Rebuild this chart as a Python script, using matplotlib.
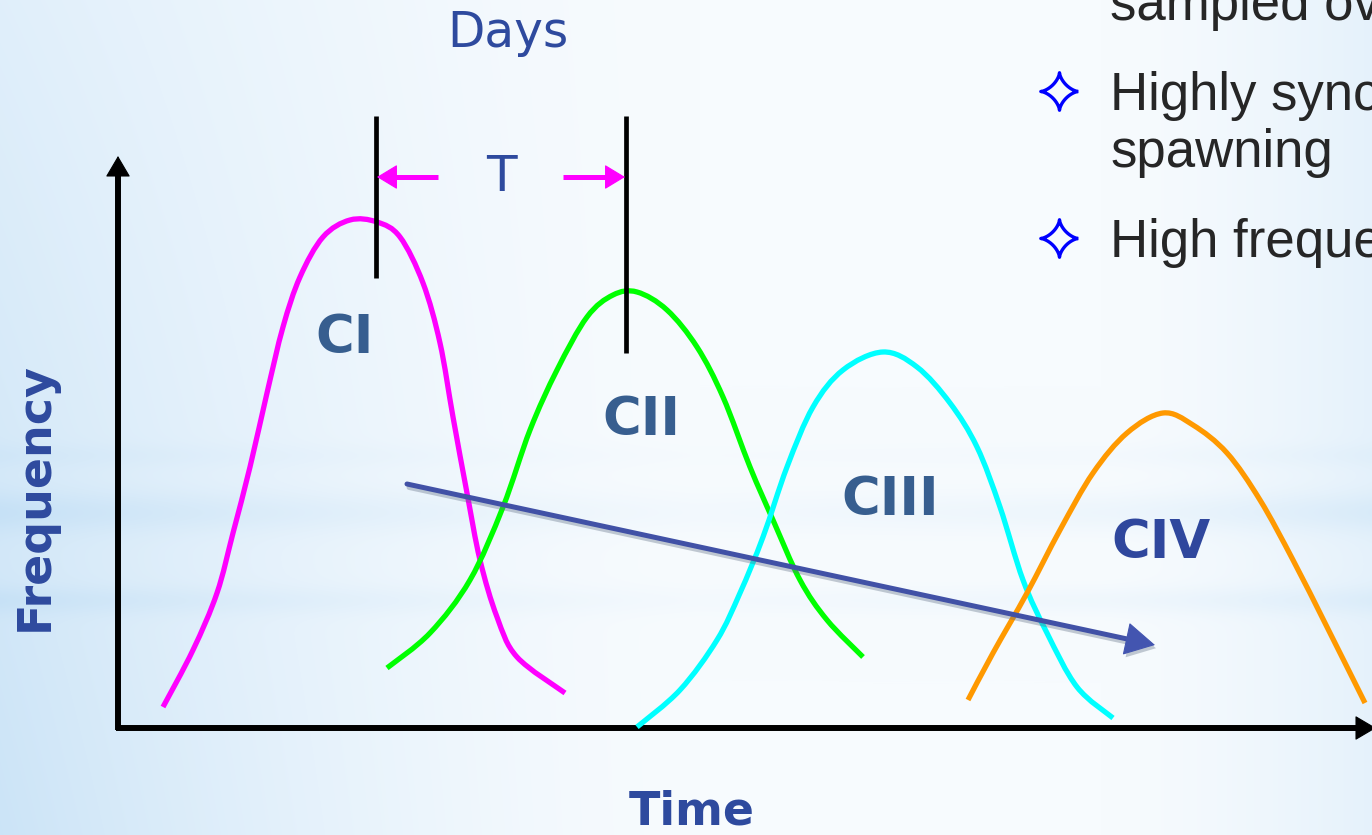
import numpy as np
import matplotlib
matplotlib.use("Agg")
import matplotlib.pyplot as plt
from matplotlib.path import Path
from matplotlib.patches import PathPatch
import matplotlib.patheffects as pe

# ---- cohort frequency curves (time, frequency) ----
ci_t = [45, 75, 99, 115, 132, 149, 165, 182, 205, 232, 259, 282, 305, 322, 335, 349, 362, 379, 399, 447]
ci_f = [21, 78, 135, 195, 261, 335, 401, 451, 491, 508, 506, 491, 445, 385, 311, 235, 168, 111, 71, 35]

cii_t = [269, 312, 352, 385, 412, 439, 469, 495, 519, 549, 579, 605, 632, 655, 682, 709, 745]
cii_f = [60, 95, 148, 221, 298, 358, 411, 433, 436, 418, 381, 331, 261, 208, 148, 108, 71]

ciii_t = [519, 562, 599, 622, 645, 669, 695, 725, 765, 799, 832, 859, 882, 905, 929, 959, 995]
ciii_f = [1, 38, 88, 135, 191, 261, 321, 358, 376, 361, 325, 281, 221, 148, 95, 41, 10]

civ_t = [850, 875, 909, 942, 975, 1009, 1045, 1075, 1109, 1142, 1175, 1209, 1247]
civ_f = [28, 75, 135, 198, 255, 295, 315, 303, 275, 228, 168, 101, 25]

cohort_labels = ["CI", "CII", "CIII", "CIV"]
label_t = [227, 523, 772, 1043]
label_f = [390, 308, 228, 185]

# interval T between two successive peaks
peak_marks_t = [258, 508]
peak_marks_top = [612, 612]
peak_marks_bottom = [450, 375]
interval_f = 551

bullets = ["sampled over", "Highly synchronized", "spawning", "High frequency"]

W_PX, H_PX = 1372, 835
T_MIN, T_MAX = -118, 1254
F_MIN, F_MAX = -107, 728

fig = plt.figure(figsize=(W_PX / 100, H_PX / 100), dpi=100)
ax = fig.add_axes([0, 0, 1, 1])
ax.set_xlim(T_MIN, T_MAX)
ax.set_ylim(F_MIN, F_MAX)
ax.axis("off")

# ---- slide background: soft blue gradient with haze bands ----
yy, xx = np.mgrid[0:H_PX, 0:W_PX].astype(float)
base = np.array([247, 251, 254]) / 255
tint = np.array([196, 224, 246]) / 255
w_left = np.clip(1 - xx / 700, 0, 1) ** 1.5 * (0.45 + 0.40 * yy / H_PX)
w_right = np.clip((xx - 1100) / 272, 0, 1) ** 1.5 * 0.35
side = 0.35 + 0.65 * np.abs(xx - 700) / 700
bands = (0.26 * np.exp(-((yy - 512) / 20) ** 2)
         + 0.20 * np.exp(-((yy - 600) / 14) ** 2)
         + 0.10 * np.exp(-((yy - 455) / 12) ** 2)) * side
w = np.clip(w_left + w_right + bands, 0, 1)[..., None]
bg = base * (1 - w) + tint * w
ax.imshow(bg, extent=[T_MIN, T_MAX, F_MIN, F_MAX], origin="upper",
          aspect="auto", zorder=0, interpolation="bilinear")


def smooth_path(t, f):
    """Cubic Bezier path through every (t, f) point (Catmull-Rom tangents)."""
    p = np.column_stack([t, f]).astype(float)
    ext = np.vstack([p[0], p, p[-1]])
    verts = [p[0]]
    codes = [Path.MOVETO]
    for i in range(1, len(ext) - 2):
        p0, p1, p2, p3 = ext[i - 1], ext[i], ext[i + 1], ext[i + 2]
        verts += [p1 + (p2 - p0) / 6, p2 - (p3 - p1) / 6, p2]
        codes += [Path.CURVE4] * 3
    return Path(verts, codes)


def head(tip, tail, color, hl, hw, z):
    ax.annotate("", xy=tip, xytext=tail, annotation_clip=False,
                arrowprops=dict(arrowstyle=f"-|>,head_length={hl},head_width={hw}",
                                color=color, lw=0.8, shrinkA=0, shrinkB=0,
                                mutation_scale=20), zorder=z)


# ---- axes with arrowheads ----
ax.plot([0, 0], [-2, 560], color="black", lw=4.3, solid_capstyle="butt", zorder=3)
ax.plot([-2, 1250], [0, 0], color="black", lw=4.3, solid_capstyle="butt", zorder=3)
head((0, 572), (0, 540), "black", 0.68, 0.4, 3)
head((1258, 0), (1225, 0), "black", 0.68, 0.4, 3)

# ---- cohort curves ----
for t, f, c in [(ci_t, ci_f, "#FF00FF"), (cii_t, cii_f, "#00FF00"),
                (ciii_t, ciii_f, "#00FFFF"), (civ_t, civ_f, "#FF9900")]:
    ax.add_patch(PathPatch(smooth_path(t, f), fill=False, edgecolor=c, lw=3.8,
                           capstyle="butt", joinstyle="round", zorder=4))

label_colors = ["#375E8F", "#375E8F", "#375E8F", "#2F479D"]
for txt, t, f, c in zip(cohort_labels, label_t, label_f, label_colors):
    ax.text(t, f, txt, ha="center", va="center", fontsize=38,
            fontweight="bold", color=c, family="DejaVu Sans", zorder=5)

# ---- peak markers and interval T ----
for t, top, bot in zip(peak_marks_t, peak_marks_top, peak_marks_bottom):
    ax.plot([t, t], [bot, top], color="black", lw=3.4, solid_capstyle="butt", zorder=5)

ax.plot([272, 320], [interval_f, interval_f], color="#FF00FF", lw=3.6,
        solid_capstyle="butt", zorder=5)
ax.plot([445, 494], [interval_f, interval_f], color="#FF00FF", lw=3.6,
        solid_capstyle="butt", zorder=5)
head((peak_marks_t[0] + 1, interval_f), (290, interval_f), "#FF00FF", 0.66, 0.4, 5)
head((peak_marks_t[1] - 1, interval_f), (470, interval_f), "#FF00FF", 0.66, 0.4, 5)
ax.text((peak_marks_t[0] + peak_marks_t[1]) / 2, interval_f, "T", ha="center",
        va="center", fontsize=36, color="#2E4A9E", zorder=5)

# ---- trend arrow across cohorts ----
trend_start = (289, 244)
trend_end = (1037, 83)
shaft = ax.plot([trend_start[0], 1012], [trend_start[1], 88.4], color="#4151A6",
                lw=3.6, solid_capstyle="round", zorder=6)[0]
shaft.set_path_effects([
    pe.SimpleLineShadow(offset=(1.5, -2.5), shadow_color="#5a6a80", alpha=0.35),
    pe.Normal()])
tip = ax.annotate("", xy=trend_end, xytext=(1000, 91),
                  arrowprops=dict(arrowstyle="-|>,head_length=1.0,head_width=0.55",
                                  color="#4355B0", lw=0.8, shrinkA=0, shrinkB=0,
                                  mutation_scale=20), zorder=6)
tip.arrow_patch.set_path_effects([
    pe.SimplePatchShadow(offset=(1.5, -2.5), shadow_rgbFace="#5a6a80", alpha=0.35),
    pe.Normal()])

# ---- axis titles ----
ax.text(390, 695, "Days", ha="center", va="center", fontsize=35, color="#2E4A9E", zorder=5)
ax.text(574, -84, "Time", ha="center", va="center", fontsize=33,
        fontweight="bold", color="#2E4A9E", zorder=5)
ax.text(-83, 231, "Frequency", ha="center", va="center", rotation=90,
        fontsize=33, fontweight="bold", color="#2E4A9E", zorder=5)

# ---- bullet notes on the right ----
ang = np.linspace(0, 2 * np.pi, 80)
star = Path(np.column_stack([np.cos(ang) ** 3, np.sin(ang) ** 3]))
ax.plot([941, 941], [637, 490], ls="none", marker=star, markersize=27,
        markerfacecolor="none", markeredgecolor="#0000FF", markeredgewidth=2.4, zorder=5)

bullet_f = [708, 618, 561, 471]
for txt, f in zip(bullets, bullet_f):
    ax.text(992, f, txt, ha="left", va="baseline", fontsize=38,
            family="Liberation Sans", color="#262626", zorder=5, clip_on=False)

fig.savefig("out.png", dpi=100)
